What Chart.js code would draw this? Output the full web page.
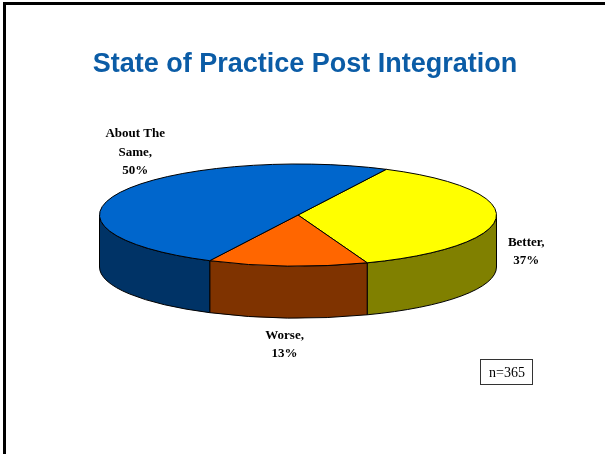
<!DOCTYPE html>
<html>
<head>
<meta charset="utf-8">
<title>State of Practice Post Integration</title>
<script src="https://cdn.jsdelivr.net/npm/chart.js@4.4.1/dist/chart.umd.min.js"></script>
<style>
    html, body { margin: 0; padding: 0; background: #ffffff; }
    #wrap { width: 605px; height: 454px; }
</style>
</head>
<body>
<div id="wrap"><canvas id="myChart" width="605" height="454"></canvas></div>
<script>
// chart data
const chartTitle = 'State of Practice Post Integration';
const categories = ['Better', 'Worse', ['About The', 'Same']];
const percents = [37, 13, 50];
const sampleSize = 365;

// colours: top of each slice and its darker side wall
const topColors = ['#FFFF00', '#FF6600', '#0066CC'];
const sideColors = ['#808000', '#7F3300', '#003366'];

// look of the fake 3d pie
const TILT = 51 / 198.5;   // height / width of the top ellipse
const DEPTH = 52;          // thickness of the pie in px
// where each label's first line sits, measured from the rim at the middle of the slice
const labelOffsets = [[30, 28], [-3, 73], [15, -55]];
const LINE_HEIGHT = 18.5;

function normAngle(a) {
    const full = Math.PI * 2;
    a = a % full;
    if (a < 0) a += full;
    return a;
}

// draws the pie squashed into an ellipse with a side wall, using the arcs chart.js laid out
const pie3d = {
    id: 'pie3d',
    beforeDatasetsDraw: function (chart) {
        const ctx = chart.ctx;
        const arcs = chart.getDatasetMeta(0).data;
        ctx.save();
        ctx.strokeStyle = '#000000';
        ctx.lineWidth = 1;
        ctx.lineJoin = 'round';

        // side walls, only the front half of the rim shows
        arcs.forEach(function (arc, i) {
            const rx = arc.outerRadius;
            const ry = rx * TILT;
            const s = normAngle(arc.startAngle);
            const e = s + (arc.endAngle - arc.startAngle);
            [[0, Math.PI], [Math.PI * 2, Math.PI * 3]].forEach(function (win) {
                const a = Math.max(s, win[0]);
                const b = Math.min(e, win[1]);
                if (b <= a) return;
                ctx.beginPath();
                ctx.ellipse(arc.x, arc.y, rx, ry, 0, a, b, false);
                ctx.ellipse(arc.x, arc.y + DEPTH, rx, ry, 0, b, a, true);
                ctx.closePath();
                ctx.fillStyle = sideColors[i];
                ctx.fill();
                ctx.stroke();
            });
        });

        // top faces
        arcs.forEach(function (arc, i) {
            const rx = arc.outerRadius;
            const ry = rx * TILT;
            ctx.beginPath();
            ctx.moveTo(arc.x, arc.y);
            ctx.ellipse(arc.x, arc.y, rx, ry, 0, arc.startAngle, arc.endAngle, false);
            ctx.closePath();
            ctx.fillStyle = topColors[i];
            ctx.fill();
            ctx.stroke();
        });
        ctx.restore();
        return false;
    }
};

// frame, title, slice labels and the sample size box
const decorations = {
    id: 'decorations',
    afterDraw: function (chart) {
        const ctx = chart.ctx;
        const arcs = chart.getDatasetMeta(0).data;
        ctx.save();

        // slide frame (top and left edge only)
        ctx.fillStyle = '#000000';
        ctx.fillRect(3, 2, 602, 3);
        ctx.fillRect(3, 2, 3, 452);

        // title
        ctx.fillStyle = '#0B5CA6';
        ctx.font = 'bold 27px "Liberation Sans", Arial, sans-serif';
        ctx.textAlign = 'center';
        ctx.textBaseline = 'alphabetic';
        ctx.fillText(chartTitle, 305, 72);

        // labels
        ctx.fillStyle = '#000000';
        ctx.font = 'bold 13px "Liberation Serif", "Times New Roman", serif';
        arcs.forEach(function (arc, i) {
            const rx = arc.outerRadius;
            const ry = rx * TILT;
            const mid = (arc.startAngle + arc.endAngle) / 2;
            const x = arc.x + rx * Math.cos(mid) + labelOffsets[i][0];
            const y = arc.y + ry * Math.sin(mid) + labelOffsets[i][1];
            const name = [].concat(categories[i]);
            const lines = name.slice(0, -1).concat([name[name.length - 1] + ',', percents[i] + '%']);
            lines.forEach(function (line, k) {
                ctx.fillText(line, x, y + k * LINE_HEIGHT);
            });
        });

        // n= box
        ctx.strokeStyle = '#333333';
        ctx.lineWidth = 1;
        ctx.strokeRect(480.5, 359.5, 52, 25);
        ctx.font = '14px "Liberation Serif", "Times New Roman", serif';
        ctx.fillText('n=' + sampleSize, 507, 377);
        ctx.restore();
    }
};

document.addEventListener("DOMContentLoaded", function () {
    const data = {
        labels: categories,
        datasets: [{
            data: percents,
            backgroundColor: topColors,
            borderColor: '#000000',
            borderWidth: 1
        }]
    };

    const config = {
        type: 'pie',
        data: data,
        options: {
            responsive: false,
            animation: false,
            devicePixelRatio: 1,
            events: [],
            radius: 198.5,
            rotation: 26.4,
            layout: {
                padding: { left: 0, right: 9, top: 0, bottom: 24 }
            },
            plugins: {
                legend: { display: false },
                title: { display: false },
                tooltip: { enabled: false }
            }
        },
        plugins: [pie3d, decorations]
    };

    new Chart(document.getElementById('myChart'), config);
});
</script>
</body>
</html>
